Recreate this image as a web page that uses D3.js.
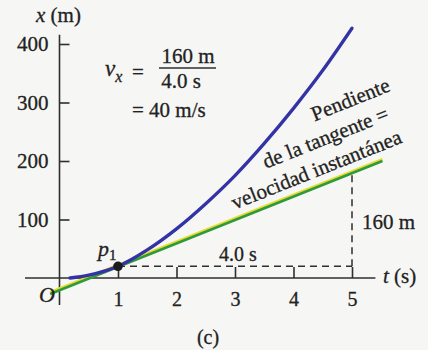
<!DOCTYPE html>
<html>
<head>
<meta charset="utf-8">
<script src="https://cdn.jsdelivr.net/npm/d3@7/dist/d3.min.js"></script>
<style>
  html, body { margin: 0; padding: 0; background: #f6f6f4; }
  svg { display: block; }
  text { font-family: "Liberation Serif", "Times New Roman", "DejaVu Serif", serif; fill: #222; stroke: #222; stroke-width: 0.3px; }
</style>
</head>
<body>
<svg id="chart" width="428" height="350"></svg>
<script>
// Position-time graph: x (m) versus t (s)
const timeTicks = [1, 2, 3, 4, 5];
const posTicks = [100, 200, 300, 400];

// Curve samples (t in s, x in m)
const curveT = [0.18, 0.5, 1, 1.5, 2, 2.5, 3, 3.5, 4, 4.5, 5];
const curveX = [0, 5, 20, 48, 84, 127, 175, 230, 290, 355, 427];

// Point p1 and the tangent through it
const p1T = 1, p1X = 20;
const riseM = 160, runS = 4.0;           // 160 m over 4.0 s = 40 m/s
const tangentT = [-0.16, 5.52];

const serif = "Liberation Serif, Times New Roman, DejaVu Serif, serif";
const svg = d3.select("#chart");
const ink = "#2f2f2f";

const x = d3.scaleLinear().domain([0, 5]).range([59.5, 352]);
const y = d3.scaleLinear().domain([0, 400]).range([278, 44]);

// Axis lines
svg.append("line")
  .attr("x1", x(-0.59)).attr("x2", x(5.4))
  .attr("y1", y(0)).attr("y2", y(0))
  .attr("stroke", ink).attr("stroke-width", 1.6);
svg.append("line")
  .attr("x1", x(0)).attr("x2", x(0))
  .attr("y1", y(416)).attr("y2", y(-46))
  .attr("stroke", ink).attr("stroke-width", 1.6);

// Y axis ticks point inward (right), labels on the left
const yAxis = svg.append("g")
  .attr("transform", `translate(${x(0)},0)`)
  .call(d3.axisLeft(y).tickValues(posTicks).tickSizeInner(-10).tickSizeOuter(0).tickPadding(11));
yAxis.select(".domain").remove();
yAxis.selectAll(".tick line").attr("stroke", ink).attr("stroke-width", 1.6);
yAxis.selectAll(".tick text").attr("font-size", 21).attr("font-family", serif).attr("fill", "#222");

// X axis ticks point up, labels below
const xAxis = svg.append("g")
  .attr("transform", `translate(0,${y(0)})`)
  .call(d3.axisBottom(x).tickValues(timeTicks).tickFormat(d3.format("d")).tickSizeInner(-11).tickSizeOuter(0).tickPadding(14));
xAxis.select(".domain").remove();
xAxis.selectAll(".tick line").attr("stroke", ink).attr("stroke-width", 1.6);
xAxis.selectAll(".tick text").attr("font-size", 20).attr("font-family", serif).attr("fill", "#222");

// Dashed run/rise triangle
const dash = "7,5";
svg.append("line")
  .attr("x1", x(p1T)).attr("x2", x(p1T + runS))
  .attr("y1", y(p1X)).attr("y2", y(p1X))
  .attr("stroke", ink).attr("stroke-width", 1.5).attr("stroke-dasharray", dash);
svg.append("line")
  .attr("x1", x(p1T + runS)).attr("x2", x(p1T + runS))
  .attr("y1", y(p1X)).attr("y2", y(p1X + riseM))
  .attr("stroke", ink).attr("stroke-width", 1.5).attr("stroke-dasharray", dash);

// Tangent line: yellow edge under a green stroke
const slope = riseM / runS;
const tangentPts = tangentT.map(t => [t, p1X + slope * (t - p1T)]);
const tLine = d3.line().x(d => x(d[0])).y(d => y(d[1]));
svg.append("path").attr("d", tLine(tangentPts))
  .attr("transform", "translate(0,-1.3)")
  .attr("fill", "none").attr("stroke", "#e6dc2e").attr("stroke-width", 2.6);
svg.append("path").attr("d", tLine(tangentPts))
  .attr("transform", "translate(0,0.5)")
  .attr("fill", "none").attr("stroke", "#2f9a3c").attr("stroke-width", 2.6);

// Position curve
const curvePts = curveT.map((t, i) => [t, curveX[i]]);
svg.append("path")
  .attr("d", d3.line().x(d => x(d[0])).y(d => y(d[1])).curve(d3.curveMonotoneX)(curvePts))
  .attr("fill", "none").attr("stroke", "#3333a6").attr("stroke-width", 3.3).attr("stroke-linecap", "round");

// Point p1
svg.append("circle").attr("cx", x(p1T)).attr("cy", y(p1X)).attr("r", 4.8)
  .attr("fill", "#1c1c1c");
const p1Label = svg.append("text").attr("x", 98).attr("y", 256).attr("font-size", 22);
p1Label.append("tspan").attr("font-style", "italic").text("p");
p1Label.append("tspan").attr("font-size", 15).attr("dy", 4).text("1");

// Axis titles
const yTitle = svg.append("text").attr("x", 36).attr("y", 22).attr("font-size", 21);
yTitle.append("tspan").attr("font-style", "italic").text("x");
yTitle.append("tspan").text(" (m)");
const xTitle = svg.append("text").attr("x", 383).attr("y", 283).attr("font-size", 21);
xTitle.append("tspan").attr("font-style", "italic").text("t");
xTitle.append("tspan").text(" (s)");
svg.append("text").attr("x", 39).attr("y", 302).attr("font-size", 22)
  .attr("font-style", "italic").text("O");

// Run and rise labels
svg.append("text").attr("x", 238).attr("y", 261).attr("font-size", 20)
  .attr("text-anchor", "middle").text("4.0 s");
svg.append("text").attr("x", 362).attr("y", 229).attr("font-size", 21).text("160 m");

// Velocity formula
const vx = svg.append("text").attr("x", 105).attr("y", 76).attr("font-size", 23);
vx.append("tspan").attr("font-style", "italic").text("v");
vx.append("tspan").attr("font-style", "italic").attr("font-size", 16).attr("dy", 6).text("x");
svg.append("text").attr("x", 132).attr("y", 79).attr("font-size", 21).text("=");
svg.append("text").attr("x", 188).attr("y", 63).attr("font-size", 21)
  .attr("text-anchor", "middle").text("160 m");
svg.append("line").attr("x1", 159).attr("x2", 216).attr("y1", 68).attr("y2", 68)
  .attr("stroke", ink).attr("stroke-width", 1.3);
svg.append("text").attr("x", 181).attr("y", 88).attr("font-size", 21)
  .attr("text-anchor", "middle").text("4.0 s");
svg.append("text").attr("x", 132).attr("y", 117).attr("font-size", 21).text("= 40 m/s");

// Slope annotation, set along the tangent
const angle = -Math.atan(slope * (y(0) - y(1)) / (x(1) - x(0))) * 180 / Math.PI;
const noteLines = [
  { text: "Pendiente", cx: 353, cy: 106 },
  { text: "de la tangente =", cx: 328, cy: 144 },
  { text: "velocidad instantánea", cx: 319, cy: 176 }
];
svg.selectAll("text.note").data(noteLines).join("text")
  .attr("class", "note")
  .attr("transform", d => `translate(${d.cx},${d.cy}) rotate(${angle})`)
  .attr("text-anchor", "middle").attr("font-size", 21)
  .text(d => d.text);

// Panel label
svg.append("text").attr("x", 208).attr("y", 344).attr("font-size", 20)
  .attr("text-anchor", "middle").text("(c)");
</script>
</body>
</html>
